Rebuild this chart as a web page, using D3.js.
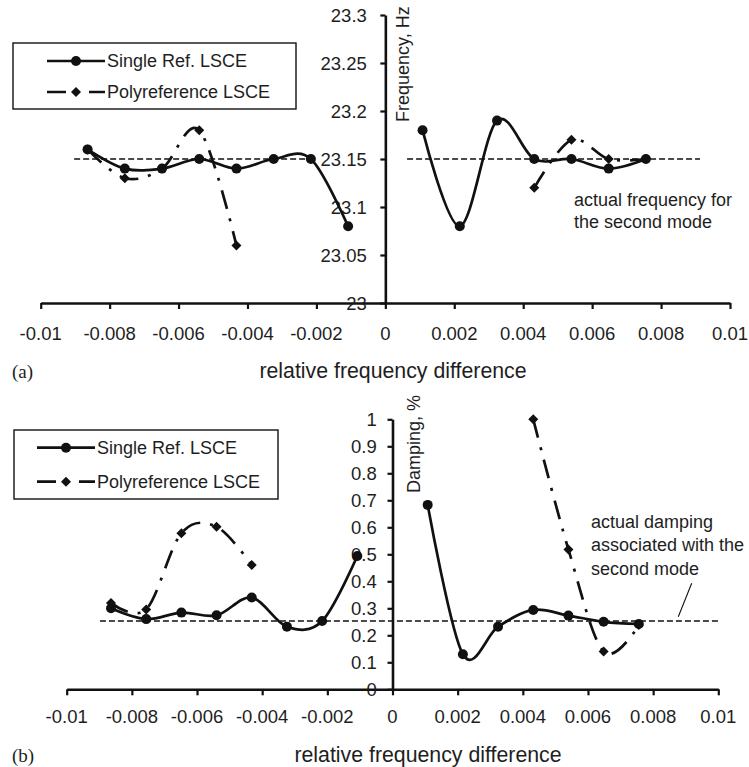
<!DOCTYPE html>
<html>
<head>
<meta charset="utf-8">
<script src="https://cdn.jsdelivr.net/npm/d3@7/dist/d3.min.js"></script>
<style>
  html, body { margin: 0; padding: 0; background: #fff; }
  svg { display: block; }
  text { font-family: "Liberation Sans", Arial, sans-serif; fill: #1e1e1e; }
</style>
</head>
<body>
<svg id="chart" width="749" height="767"></svg>
<script>
// ---------- data ----------
const xLeft  = [-0.00864, -0.00756, -0.00648, -0.0054, -0.00432, -0.00324, -0.00216, -0.00108];
const xRight = [0.00108, 0.00216, 0.00324, 0.00432, 0.0054, 0.00648, 0.00756];
const xPolyLeft  = [-0.00864, -0.00756, -0.00648, -0.0054, -0.00432];
const xPolyRight = [0.00432, 0.0054, 0.00648, 0.00756];

const freqSingleLeft  = [23.16, 23.14, 23.14, 23.15, 23.14, 23.15, 23.15, 23.08];
const freqSingleRight = [23.18, 23.08, 23.19, 23.15, 23.15, 23.14, 23.15];
const freqPolyLeft    = [23.16, 23.13, 23.14, 23.18, 23.06];
const freqPolyRight   = [23.12, 23.17, 23.15, 23.15];
const freqActual = 23.15;

const dampSingleLeft  = [0.30, 0.26, 0.284, 0.274, 0.34, 0.232, 0.253, 0.494];
const dampSingleRight = [0.683, 0.13, 0.232, 0.294, 0.273, 0.25, 0.242];
const dampPolyLeft    = [0.32, 0.296, 0.578, 0.602, 0.46];
const dampPolyRight   = [1.0, 0.518, 0.14, 0.238];
const dampActual = 0.253;

const xTicks = [-0.01, -0.008, -0.006, -0.004, -0.002, 0, 0.002, 0.004, 0.006, 0.008, 0.01];
const freqTicks = [23, 23.05, 23.1, 23.15, 23.2, 23.25, 23.3];
const dampTicks = [0, 0.1, 0.2, 0.3, 0.4, 0.5, 0.6, 0.7, 0.8, 0.9, 1];
const legendLabels = ["Single Ref. LSCE", "Polyreference LSCE"];

// ---------- drawing ----------
const svg = d3.select("#chart");
const INK = "#111";
const polyDash = "19,10,3,10";
const fmt = d => d === 0 ? "0" : String(+d.toFixed(3));

function diamond(g, x, y, s) {
  g.append("path")
    .attr("d", `M${x},${y - s}L${x + s},${y}L${x},${y + s}L${x - s},${y}Z`)
    .attr("fill", INK);
}

function panel(cfg) {
  const g = svg.append("g");
  const x = d3.scaleLinear().domain([-0.01, 0.01]).range(cfg.xRange);
  const y = d3.scaleLinear().domain(cfg.yDomain).range(cfg.yRange);
  const x0 = x(0);

  // actual value dashed reference line(s)
  cfg.refSegs.forEach(seg => {
    g.append("line")
      .attr("x1", x(seg[0])).attr("x2", x(seg[1]))
      .attr("y1", y(cfg.actual)).attr("y2", y(cfg.actual))
      .attr("stroke", INK).attr("stroke-width", 1.4)
      .attr("stroke-dasharray", "6,3");
  });

  // x axis
  const xAxis = d3.axisBottom(x).tickValues(xTicks).tickFormat("").tickSizeInner(6).tickSizeOuter(0);
  const xg = g.append("g").attr("transform", `translate(0,${y(cfg.yDomain[0])})`).call(xAxis);
  xg.select(".domain").attr("stroke", INK).attr("stroke-width", 2.6);
  xg.selectAll(".tick line").attr("stroke", INK).attr("stroke-width", 2.2);
  g.selectAll(".xlab").data(xTicks).enter().append("text")
    .attr("x", d => x(d)).attr("y", cfg.xLabelY)
    .attr("text-anchor", "middle").attr("font-size", 18.5)
    .text(fmt);

  // y axis
  const yAxis = d3.axisLeft(y).tickValues(cfg.yTicks).tickFormat("").tickSizeInner(5).tickSizeOuter(0);
  const yg = g.append("g").attr("transform", `translate(${x0},0)`).call(yAxis);
  yg.select(".domain").attr("stroke", INK).attr("stroke-width", 2.6);
  yg.selectAll(".tick line").attr("stroke", INK).attr("stroke-width", 2.2);
  g.selectAll(".ylab").data(cfg.yTicks).enter().append("text")
    .attr("x", x0 - cfg.yLabelGap).attr("y", d => y(d) + 6.6)
    .attr("text-anchor", "end").attr("font-size", 18.5)
    .text(d => String(d));

  // y title
  g.append("text")
    .attr("transform", `translate(${cfg.yTitle[0]},${cfg.yTitle[1]}) rotate(-90)`)
    .attr("font-size", 18).attr("text-anchor", "start")
    .text(cfg.yTitleText);

  // x title & panel letter
  g.append("text").attr("x", cfg.xTitle[0]).attr("y", cfg.xTitle[1])
    .attr("text-anchor", "middle").attr("font-size", 21.3)
    .text("relative frequency difference");
  g.append("text").attr("x", 12).attr("y", cfg.xTitle[1])
    .attr("font-size", 19).style("font-family", "'Liberation Serif', 'Times New Roman', serif")
    .text(cfg.letter);

  const line = d3.line().x(d => x(d[0])).y(d => y(d[1])).curve(d3.curveCardinal.tension(0));

  const series = [
    {xs: xLeft, ys: cfg.singleLeft, poly: false},
    {xs: xRight, ys: cfg.singleRight, poly: false},
    {xs: xPolyLeft, ys: cfg.polyLeft, poly: true},
    {xs: xPolyRight, ys: cfg.polyRight, poly: true}
  ];
  series.forEach(s => {
    const pts = s.xs.map((xv, i) => [xv, s.ys[i]]);
    g.append("path").attr("d", line(pts)).attr("fill", "none")
      .attr("stroke", INK).attr("stroke-width", 2.7)
      .attr("stroke-dasharray", s.poly ? polyDash : null);
    pts.forEach(p => {
      if (s.poly) diamond(g, x(p[0]), y(p[1]), 5);
      else g.append("circle").attr("cx", x(p[0])).attr("cy", y(p[1])).attr("r", 5).attr("fill", INK);
    });
  });

  // legend
  const L = cfg.legend;
  g.append("rect").attr("x", L.x).attr("y", L.y).attr("width", L.w).attr("height", L.h)
    .attr("fill", "#fff").attr("stroke", INK).attr("stroke-width", 1.4);
  legendLabels.forEach((lab, i) => {
    const cy = L.rows[i];
    g.append("line").attr("x1", L.lx0).attr("x2", L.lx1).attr("y1", cy).attr("y2", cy)
      .attr("stroke", INK).attr("stroke-width", 2.7)
      .attr("stroke-dasharray", i === 1 ? polyDash : null);
    const mx = (L.lx0 + L.lx1) / 2;
    if (i === 0) g.append("circle").attr("cx", mx).attr("cy", cy).attr("r", 5).attr("fill", INK);
    else diamond(g, mx, cy, 5);
    g.append("text").attr("x", L.tx).attr("y", cy + 6.3).attr("font-size", 18).text(lab);
  });

  // annotation
  cfg.note.lines.forEach((t, i) => {
    g.append("text").attr("x", cfg.note.x).attr("y", cfg.note.y0 + i * cfg.note.dy + 6.3)
      .attr("font-size", 18).text(t);
  });
  if (cfg.note.leader) {
    const l = cfg.note.leader;
    g.append("line").attr("x1", l[0]).attr("y1", l[1]).attr("x2", l[2]).attr("y2", l[3])
      .attr("stroke", INK).attr("stroke-width", 1.1);
  }
}

panel({
  xRange: [40.7, 730], yDomain: [23, 23.3], yRange: [303, 15],
  yTicks: freqTicks, yLabelGap: 18.5, xLabelY: 339.5,
  actual: freqActual, refSegs: [[-0.00903, -0.00218], [0.00063, 0.00913]],
  singleLeft: freqSingleLeft, singleRight: freqSingleRight,
  polyLeft: freqPolyLeft, polyRight: freqPolyRight,
  yTitle: [409, 122], yTitleText: "Frequency, Hz",
  xTitle: [393, 377.5], letter: "(a)",
  legend: {x: 13, y: 43, w: 283, h: 66, rows: [61, 92], lx0: 47, lx1: 105, tx: 107},
  note: {x: 574, y0: 199.3, dy: 22.4, lines: ["actual frequency for", "the second mode"]}
});

panel({
  xRange: [66.7, 718.3], yDomain: [0, 1], yRange: [689.3, 419.3],
  yTicks: dampTicks, yLabelGap: 15.7, xLabelY: 723,
  actual: dampActual, refSegs: [[-0.00898, 0.01]],
  singleLeft: dampSingleLeft, singleRight: dampSingleRight,
  polyLeft: dampPolyLeft, polyRight: dampPolyRight,
  yTitle: [420, 493], yTitleText: "Damping, %",
  xTitle: [428, 761.5], letter: "(b)",
  legend: {x: 14, y: 430, w: 264, h: 69, rows: [447.7, 481.7], lx0: 37, lx1: 95, tx: 97},
  note: {x: 591, y0: 521.7, dy: 23.3, lines: ["actual damping", "associated with the", "second mode"],
         leader: [691.7, 583.3, 678.3, 616.7]}
});
</script>
</body>
</html>
